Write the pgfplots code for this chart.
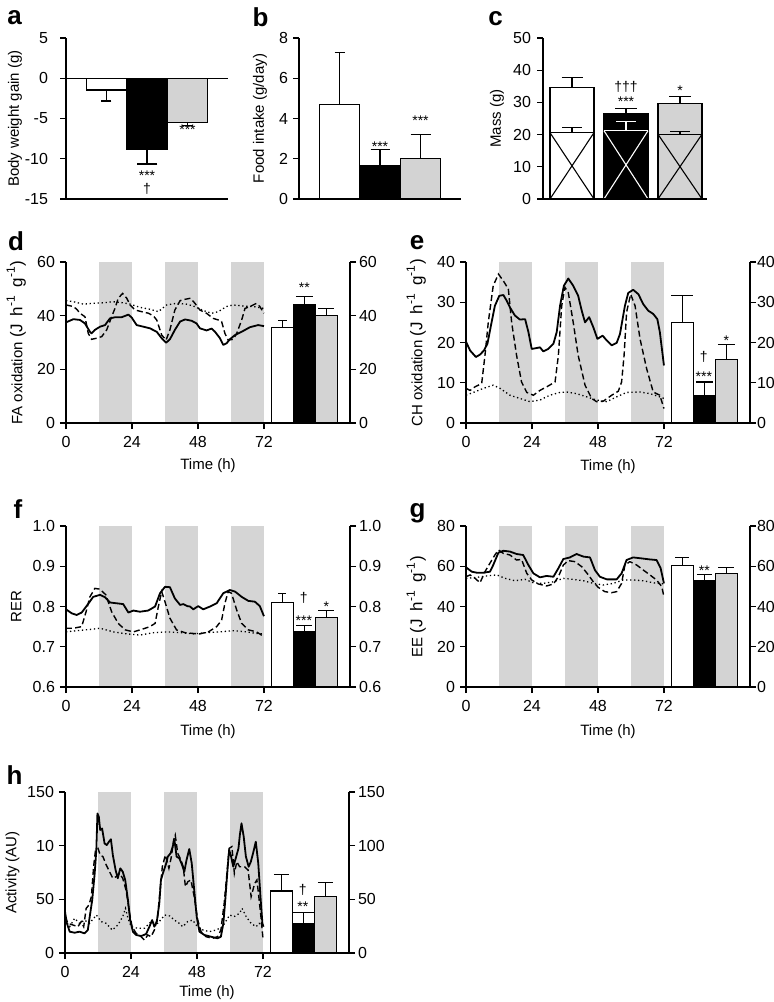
\documentclass[border=0pt]{standalone}
\usepackage{fontspec}
\setmainfont{Liberation Sans}
\usepackage{pgfplots}
\pgfplotsset{compat=1.18}

\definecolor{bargray}{RGB}{211,211,211}
\definecolor{bandgray}{RGB}{213,213,213}

\pgfplotsset{
  base/.style={scale only axis, anchor=south west, height=80.5pt, axis on top, clip=false,
    tick align=outside, major tick length=3pt,
    axis line style={line width=0.65pt},
    every tick/.append style={line width=0.65pt, black},
    tick label style={font=\fontsize{8}{9}\selectfont},
    label style={font=\fontsize{7.5}{9}\selectfont},
    /pgf/number format/assume math mode=true},
  toppan/.style={base, width=81pt, xmin=0, xmax=4, xtick=\empty, bar width=1,
    axis x line*=bottom, axis y line*=left},
  tpan/.style={base, width=142pt, xmin=0, xmax=103.3, xtick={0,24,48,72}, bar width=8,
    axis x line*=bottom, axis y line*=left, yticklabel style={xshift=1pt},
    ylabel style={at={(axis description cs:-0.175,0.5)}, anchor=center}},
  rpan/.style={base, width=142pt, xmin=0, xmax=103.3, axis x line=none, axis y line*=right,
    yticklabel style={xshift=-2pt}},
  mybar/.style={ybar, bar shift=0pt, draw=black, line width=0.55pt,
    /pgfplots/error bars/y dir=plus, /pgfplots/error bars/y explicit,
    /pgfplots/error bars/error bar style={line width=0.55pt, black, solid},
    /pgfplots/error bars/error mark options={rotate=90, line width=0.55pt, black, mark size=#1}},
  mybarm/.style={mybar=#1, /pgfplots/error bars/y dir=minus},
  myband/.style={fill=bandgray, draw=none, forget plot},
  sl/.style={black, line width=0.9pt, mark=none, line join=round},
  dl/.style={black, line width=0.7pt, mark=none, dash pattern=on 3pt off 1.6pt},
  ol/.style={black, line width=0.65pt, mark=none, dash pattern=on 0.65pt off 1.35pt},
}
\tikzset{
  ann/.style={font=\fontsize{7}{8}\selectfont, inner sep=0pt},
  lab/.style={font=\fontsize{7.5}{9}\selectfont, inner sep=0pt},
  lbl/.style={font=\bfseries\fontsize{13}{13}\selectfont, inner sep=0pt},
}
\newcommand{\sups}[1]{\raisebox{0.85ex}{\fontsize{6}{6}\selectfont #1}}
\newcommand{\Jhg}{{\fontsize{8.5}{9}\selectfont(J\hspace{1.5pt} h\sups{-1}\hspace{2pt} g\sups{-1}\hspace{0.5pt})}}

\begin{document}
\begin{tikzpicture}
\useasboundingbox (0,0) rectangle (387pt,-501pt);

% panel letters
\node[lbl] at (7.25pt,-9pt) {a};
\node[lbl] at (130.25pt,-8.75pt) {b};
\node[lbl] at (247.75pt,-9.5pt) {c};
\node[lbl] at (8pt,-120.5pt) {d};
\node[lbl] at (208.5pt,-121.5pt) {e};
\node[lbl] at (9pt,-254.5pt) {f};
\node[lbl] at (208.75pt,-256.5pt) {g};
\node[lbl] at (7.25pt,-387.5pt) {h};

% a: body weight gain
\begin{axis}[toppan, at={(33pt,-99.5pt)}, ymin=-15, ymax=5, yticklabel style={xshift=-2.5pt},
  ytick={-15,-10,-5,0,5}, yticklabels={-15,-10,-5,0,5},
  ylabel={Body weight gain (g)}, ylabel style={at={(axis description cs:-0.315,0.5)}, anchor=center}]
\addplot[mybarm=2.5pt, fill=white] coordinates {(1,-1.46) +- (0,1.37)};
\addplot[mybarm=5.2pt, fill=black] coordinates {(2,-8.8) +- (0,1.85)};
\addplot[mybarm=2.75pt, fill=bargray] coordinates {(3,-5.48) +- (0,0.41)};
\addplot[black, line width=0.65pt, mark=none] coordinates {(0,0) (4,0)};
\node[ann] at (axis cs:3,-6.4) {***};
\node[ann] at (axis cs:2,-12.1) {***};
\node[ann] at (axis cs:2,-13.8) {†};
\end{axis}

% b: food intake
\begin{axis}[toppan, at={(149.5pt,-99.5pt)}, ymin=0, ymax=8, yticklabel style={xshift=1pt},
  ytick={0,2,4,6,8}, yticklabels={0,2,4,6,8},
  ylabel={Food intake (g/day)}, ylabel style={at={(axis description cs:-0.24,0.5)}, anchor=center}]
\addplot[mybar=2.5pt, fill=white] coordinates {(1,4.71) +- (0,2.57)};
\addplot[mybar=4.75pt, fill=black] coordinates {(2,1.66) +- (0,0.78)};
\addplot[mybar=5pt, fill=bargray] coordinates {(3,2.0) +- (0,1.22)};
\node[ann] at (axis cs:2,2.6) {***};
\node[ann] at (axis cs:3,3.87) {***};
\end{axis}

% c: mass
\begin{axis}[base, at={(271.5pt,-99.5pt)}, width=82pt, xmin=0.463, xmax=3.5, xtick=\empty,
  bar width=0.815, axis x line*=bottom, axis y line*=left, ymin=0, ymax=50,
  yticklabel style={xshift=0.5pt},
  ytick={0,10,20,30,40,50}, yticklabels={0,10,20,30,40,50},
  ylabel={Mass (g)}, ylabel style={at={(axis description cs:-0.28,0.5)}, anchor=center}]
\addplot[mybar=5.25pt, fill=white] coordinates {(1,34.6) +- (0,3.2)};
\addplot[mybar=5.5pt, fill=black] coordinates {(2,26.4) +- (0,1.6)};
\addplot[mybar=5.5pt, fill=bargray] coordinates {(3,29.6) +- (0,2.2)};
% inner (lean) parts with cross
\addplot[black, line width=0.55pt, mark=none] coordinates {(0.5925,20.6) (1.4075,20.6)};
\addplot[black, line width=0.55pt, mark=none] coordinates {(0.5925,0) (1.4075,20.6)};
\addplot[black, line width=0.55pt, mark=none] coordinates {(0.5925,20.6) (1.4075,0)};
\addplot[black, line width=0.55pt, mark=none] coordinates {(1,20.6) (1,22.3)};
\addplot[black, line width=0.55pt, mark=none] coordinates {(0.815,22.3) (1.185,22.3)};
\addplot[white, line width=0.55pt, mark=none] coordinates {(1.5925,21.2) (2.4075,21.2)};
\addplot[white, line width=0.55pt, mark=none] coordinates {(1.5925,0) (2.4075,21.2)};
\addplot[white, line width=0.55pt, mark=none] coordinates {(1.5925,21.2) (2.4075,0)};
\addplot[white, line width=0.55pt, mark=none] coordinates {(2,21.2) (2,24.0)};
\addplot[white, line width=0.55pt, mark=none] coordinates {(1.815,24.0) (2.185,24.0)};
\addplot[black, line width=0.55pt, mark=none] coordinates {(2.5925,20.1) (3.4075,20.1)};
\addplot[black, line width=0.55pt, mark=none] coordinates {(2.5925,0) (3.4075,20.1)};
\addplot[black, line width=0.55pt, mark=none] coordinates {(2.5925,20.1) (3.4075,0)};
\addplot[black, line width=0.55pt, mark=none] coordinates {(3,20.1) (3,21.1)};
\addplot[black, line width=0.55pt, mark=none] coordinates {(2.815,21.1) (3.185,21.1)};
\node[ann] at (axis cs:2,34.8) {†††};
\node[ann] at (axis cs:2,30.1) {***};
\node[ann] at (axis cs:3,33.5) {*};
\end{axis}

% d: FA oxidation
\begin{axis}[tpan, at={(33pt,-211.5pt)}, ymin=0, ymax=60,
  ytick={0,20,40,60}, yticklabels={0,20,40,60},
  ylabel={FA oxidation \Jhg}]
\addplot[myband] coordinates {(12,0) (24,0) (24,60) (12,60)} -- cycle;
\addplot[myband] coordinates {(36,0) (48,0) (48,60) (36,60)} -- cycle;
\addplot[myband] coordinates {(60,0) (72,0) (72,60) (60,60)} -- cycle;
\addplot[ol] coordinates {(0,45.6) (2.7,45.2) (6.3,44.3) (9.9,44.6) (13.6,44.8) (17.2,45.2) (20.8,44.8) (23.3,44.3) (26.9,43.1) (30.5,42.4) (33.6,41.5) (36.6,44) (40.2,44.6) (43.8,44.3) (46.3,43.6) (50,41.9) (53,40.9) (55.4,41.5) (58.4,43.4) (60.8,44) (64.5,43.6) (68.1,43.4) (72,42.7)};
\addplot[dl] coordinates {(0,44) (2.7,43.4) (3.9,42.4) (5.1,40.9) (6.9,39.6) (8.1,33.4) (9.3,31.2) (11.2,31.6) (13,32.2) (14.8,34.7) (16.6,39.6) (17.8,42.7) (19,46.5) (20.6,48.3) (22.1,46.5) (23.3,44) (25.1,42.1) (27.5,41.5) (30,40.9) (31.8,39.9) (33,38.4) (34.8,32.8) (36.4,30.9) (37.8,34.7) (39.6,42.1) (41.5,45.6) (43.3,46.1) (45.3,46.5) (46.9,44.6) (48.7,42.1) (51.1,40.9) (53.5,39) (55.4,38.4) (56.6,37.8) (57.8,33.4) (59,30.9) (60.8,31.2) (62.1,33.4) (63.9,38.4) (65.1,42.7) (66.9,43.4) (69.3,44.6) (70.5,43.4) (72,40.9)};
\addplot[sl] coordinates {(0,37.5) (2.7,38.7) (5.1,38.4) (6.9,37.1) (8.7,34) (9.3,33.4) (10.5,34.7) (12.4,35.9) (14.2,36.5) (16,39) (17.8,39.4) (20.2,39.4) (22.7,40.4) (23.9,39.3) (25.7,36.5) (28.1,35.9) (30.5,35.3) (33,34) (34.8,31.6) (36.4,29.9) (37.8,31.2) (39.6,34.7) (41.5,37.8) (43.3,38.6) (45.7,38.1) (47.5,37.1) (48.7,35.3) (51.1,34.5) (53,35.2) (54.2,34) (56,31.6) (57.2,29.1) (58.4,29.7) (59.6,31.2) (61.5,32.8) (63.9,34) (66.9,35.7) (69.9,36.5) (72,36.1)};
\addplot[mybar=2.3pt, fill=white] coordinates {(78.7,35.5) +- (0,2.8)};
\addplot[mybar=4.3pt, fill=black] coordinates {(86.7,44) +- (0,3.3)};
\addplot[mybar=4pt, fill=bargray] coordinates {(94.7,39.9) +- (0,2.8)};
\node[ann] at (axis cs:86.7,50.3) {**};
\node[lab] at (axis description cs:0.5,-0.265) {Time (h)};
\end{axis}
\begin{axis}[rpan, at={(33pt,-211.5pt)}, ymin=0, ymax=60, ytick={0,20,40,60}, yticklabels={0,20,40,60}]
\end{axis}

% e: CH oxidation
\begin{axis}[tpan, at={(233pt,-211.5pt)}, ymin=0, ymax=40,
  ytick={0,10,20,30,40}, yticklabels={0,10,20,30,40},
  ylabel={CH oxidation \Jhg}]
\addplot[myband] coordinates {(12,0) (24,0) (24,40) (12,40)} -- cycle;
\addplot[myband] coordinates {(36,0) (48,0) (48,40) (36,40)} -- cycle;
\addplot[myband] coordinates {(60,0) (72,0) (72,40) (60,40)} -- cycle;
\addplot[ol] coordinates {(0,6.9) (2.7,7.6) (6.3,8.6) (9.9,9.4) (12.4,8.6) (16,6.9) (19.6,6.1) (23.3,5.3) (26.9,5.7) (30.5,6.9) (34.2,7.6) (36.6,7.7) (40.2,7.3) (43.9,6.5) (47.5,5.7) (51.2,5.3) (54.8,6.5) (58.4,7.6) (63.3,7.7) (66.9,7.3) (70.5,6.5) (72,6.1)};
\addplot[dl] coordinates {(0,8.6) (1.5,8.1) (3.3,9) (5.7,9.8) (6.9,16.8) (8.1,25) (9.9,34.1) (11.8,37) (13.6,35.3) (15.4,33.3) (16.6,25) (18.4,16.8) (20.2,10.2) (22.1,7.6) (24.5,6.9) (26.9,8.1) (29.9,9.2) (32.4,10.2) (33.6,16.8) (34.8,29.1) (36,33.7) (37.2,32.4) (39,25) (40.8,16.8) (43.3,9.4) (45.7,6.1) (47.5,5.3) (49.9,5.4) (53,6.9) (55.4,7.9) (56.6,10.2) (57.5,16.8) (58.4,27.5) (59.9,32) (61.5,29.1) (63.3,20.9) (65.7,13.5) (68.1,7.7) (70.5,6.9) (72,3.6)};
\addplot[sl] coordinates {(0,20.2) (1.5,18) (3.6,16.4) (5.1,17) (6.5,18) (7.8,19.7) (9.3,25) (10.5,29.1) (12.1,31.6) (13.6,31.8) (14.8,30.4) (16,28.7) (17.8,26.7) (19.6,25.7) (21.5,25.8) (22.7,22.6) (23.9,18.4) (25.5,18.6) (26.9,18.8) (28.1,17.8) (29.9,18.4) (31.8,19.7) (33,22.6) (34.2,29.1) (35.6,34.1) (37.2,35.9) (39,34.1) (40.8,31.6) (42.1,27.9) (43.3,25) (44.8,26.3) (46.3,23.8) (47.8,20.9) (49.7,21.7) (51.2,20.5) (53,19.3) (54.8,19.9) (56,22.1) (57.8,29.1) (59,32.3) (60.8,33.1) (62.7,32) (64.5,29.5) (66.3,27.9) (68.1,27.1) (69.6,25.8) (70.5,22.6) (72,14.3)};
\addplot[mybar=5.5pt, fill=white] coordinates {(78.7,25) +- (0,6.6)};
\addplot[mybar=4.3pt, fill=black] coordinates {(86.7,6.9) +- (0,3.3)};
\addplot[mybar=4.3pt, fill=bargray] coordinates {(94.7,15.7) +- (0,3.8)};
\node[ann] at (axis cs:86.5,16.5) {†};
\node[ann] at (axis cs:86.5,11.6) {***};
\node[ann] at (axis cs:94.7,20.5) {*};
\node[lab] at (axis description cs:0.5,-0.27) {Time (h)};
\end{axis}
\begin{axis}[rpan, at={(233pt,-211.5pt)}, ymin=0, ymax=40, ytick={0,10,20,30,40}, yticklabels={0,10,20,30,40},
  yticklabel style={xshift=-1pt}]
\end{axis}

% f: RER
\begin{axis}[tpan, at={(33pt,-343.5pt)}, ymin=0.6, ymax=1.0,
  ytick={0.6,0.7,0.8,0.9,1.0}, yticklabels={0.6,0.7,0.8,0.9,1.0},
  ylabel={RER}]
\addplot[myband] coordinates {(12,0.6) (24,0.6) (24,1) (12,1)} -- cycle;
\addplot[myband] coordinates {(36,0.6) (48,0.6) (48,1) (36,1)} -- cycle;
\addplot[myband] coordinates {(60,0.6) (72,0.6) (72,1) (60,1)} -- cycle;
\addplot[ol] coordinates {(0,0.737) (3.9,0.740) (8.7,0.743) (12.4,0.746) (17.2,0.737) (22.1,0.732) (26.9,0.729) (31.8,0.735) (36.6,0.737) (41.5,0.735) (46.3,0.732) (51.2,0.735) (56,0.737) (60.8,0.740) (65.7,0.737) (69.3,0.733) (72,0.732)};
\addplot[dl] coordinates {(0,0.746) (2.7,0.746) (5.7,0.750) (7.3,0.787) (8.7,0.824) (10.5,0.845) (12.4,0.843) (14.5,0.829) (16.6,0.787) (19,0.758) (21.5,0.742) (24.5,0.737) (27.5,0.743) (30.5,0.750) (32.4,0.758) (33.6,0.800) (34.8,0.837) (36,0.812) (37.8,0.771) (40.2,0.742) (43.3,0.735) (46.3,0.733) (48.7,0.732) (51.8,0.737) (54.8,0.750) (56.6,0.766) (57.8,0.808) (59,0.837) (60.2,0.833) (62.1,0.791) (63.9,0.758) (66.3,0.742) (69.3,0.737) (72,0.725)};
\addplot[sl] coordinates {(0,0.793) (2.1,0.783) (3.9,0.779) (5.7,0.785) (7.8,0.804) (9.9,0.824) (12.4,0.829) (14.2,0.823) (16,0.810) (18.4,0.808) (20.8,0.806) (22.7,0.785) (24.5,0.790) (26.9,0.787) (29.9,0.790) (32.4,0.800) (34.2,0.833) (36,0.849) (37.8,0.848) (39.6,0.820) (41.5,0.804) (42.7,0.806) (44.1,0.801) (45.1,0.800) (46.3,0.793) (48.1,0.801) (49.9,0.793) (52.4,0.800) (54.8,0.808) (57.2,0.833) (59.6,0.841) (61.5,0.837) (63.9,0.824) (66.3,0.814) (68.7,0.812) (70.5,0.801) (72,0.776)};
\addplot[mybar=2pt, fill=white] coordinates {(78.7,0.809) +- (0,0.024)};
\addplot[mybar=4pt, fill=black] coordinates {(86.7,0.737) +- (0,0.015)};
\addplot[mybar=4pt, fill=bargray] coordinates {(94.7,0.772) +- (0,0.017)};
\node[ann] at (axis cs:86.5,0.821) {†};
\node[ann] at (axis cs:86.5,0.764) {***};
\node[ann] at (axis cs:94.7,0.799) {*};
\node[lab] at (axis description cs:0.5,-0.28) {Time (h)};
\end{axis}
\begin{axis}[rpan, at={(33pt,-343.5pt)}, ymin=0.6, ymax=1.0, ytick={0.6,0.7,0.8,0.9,1.0}, yticklabels={0.6,0.7,0.8,0.9,1.0}]
\end{axis}

% g: EE
\begin{axis}[tpan, at={(233pt,-343.5pt)}, ymin=0, ymax=80,
  ytick={0,20,40,60,80}, yticklabels={0,20,40,60,80},
  ylabel={EE \Jhg}]
\addplot[myband] coordinates {(12,0) (24,0) (24,80) (12,80)} -- cycle;
\addplot[myband] coordinates {(36,0) (48,0) (48,80) (36,80)} -- cycle;
\addplot[myband] coordinates {(60,0) (72,0) (72,80) (60,80)} -- cycle;
\addplot[ol] coordinates {(0,54) (3.9,54.5) (7.5,55.2) (11.2,55.7) (14.2,54) (17.8,52.8) (21.5,53.5) (24.5,51.8) (28.1,51.5) (31.8,52.3) (35.4,54) (39,53.5) (42.7,52.8) (46.3,51.5) (49.9,50.7) (53.6,51.5) (57.2,53.2) (60.8,53.2) (64.5,52.8) (68.1,51.8) (72,51.2)};
\addplot[dl] coordinates {(0,54.8) (1.5,55.7) (3.3,54) (5.1,51.8) (6.9,57.3) (8.7,61.5) (10.5,65.6) (11.8,68.1) (13.6,66.4) (16,65.6) (18.4,63.1) (20.2,63.4) (22.1,56.5) (23.9,53.2) (26.3,51.2) (29.3,50.2) (31.8,51.2) (33.6,54.8) (35.4,60.6) (37.2,62.8) (39.6,62.3) (42.1,59.8) (44.5,55.7) (46.3,52.3) (48.1,49.5) (50.5,47.4) (53,46.9) (54.8,47.4) (56.6,51.5) (57.8,60.6) (59.6,62.3) (62.1,60.6) (64.5,58.1) (66.9,55.7) (69.3,53.2) (71.2,49.9) (72,44.9)};
\addplot[sl] coordinates {(0,59.5) (2.1,57.3) (3.9,56.8) (6.3,56.8) (8.7,57.3) (9.9,60.6) (11.8,66.8) (13.6,67.7) (16,67.3) (18.4,66.1) (20.8,65.6) (22.7,60.6) (24.5,56.5) (26.9,54.5) (29.3,55.2) (31.8,54.8) (33.6,59) (35.4,63.6) (37.8,64.4) (40.2,66.1) (42.7,64.8) (45.1,64.4) (46.9,58.1) (48.7,54.8) (51.2,53.5) (54.8,53.5) (56.6,56.5) (58.4,63.1) (60.8,64.4) (63.9,63.9) (66.9,63.4) (69.3,63.1) (70.8,59) (72,51.5)};
\addplot[mybar=3.5pt, fill=white] coordinates {(78.7,60.3) +- (0,4.1)};
\addplot[mybar=3.75pt, fill=black] coordinates {(86.7,52.7) +- (0,3.0)};
\addplot[mybar=4pt, fill=bargray] coordinates {(94.7,56.5) +- (0,3.0)};
\node[ann] at (axis cs:86.7,57.6) {**};
\node[lab] at (axis description cs:0.5,-0.28) {Time (h)};
\end{axis}
\begin{axis}[rpan, at={(233pt,-343.5pt)}, ymin=0, ymax=80, ytick={0,20,40,60,80}, yticklabels={0,20,40,60,80},
  yticklabel style={xshift=-1pt}]
\end{axis}

% h: activity
\begin{axis}[tpan, at={(32.5pt,-476.5pt)}, ymin=0, ymax=150,
  ytick={0,50,100,150}, yticklabels={0,50,10,150},
  ylabel={Activity (AU)}, ylabel style={at={(axis description cs:-0.185,0.5)}}]
\addplot[myband] coordinates {(12,0) (24,0) (24,150) (12,150)} -- cycle;
\addplot[myband] coordinates {(36,0) (48,0) (48,150) (36,150)} -- cycle;
\addplot[myband] coordinates {(60,0) (72,0) (72,150) (60,150)} -- cycle;
\addplot[ol] coordinates {(0,30.7) (1.7,24.5) (3.5,32.3) (5.3,27.6) (7.1,30.7) (8.9,27.6) (11.4,35.4) (13.2,29.2) (15,27.6) (17.2,21.4) (19.2,26.1) (21,33.9) (22,41.6) (22.9,32.3) (24.1,24.5) (26.5,23) (28.9,23) (31.3,29.2) (33.7,27.6) (36.3,35.4) (38.1,34.5) (39.8,30.7) (41.6,27.6) (42.8,24.5) (44.6,29.2) (46.4,30.7) (48.2,24.5) (50.2,21.4) (52.5,19.9) (55,21.4) (57.3,24.5) (59.9,35.4) (61.5,33.9) (63.5,37) (64.4,41.6) (65.9,33.9) (67.7,27.6) (69.5,24.5) (70.6,27.6) (72,26.1)};
\addplot[dl] coordinates {(0,33.9) (1.1,27.6) (2.9,26.1) (4.7,24.5) (5.9,29.2) (6.8,24.5) (7.7,41.6) (8.7,44.7) (9.6,52.5) (10.4,80.4) (11.1,96) (12,97.5) (12.8,91.3) (13.8,89.8) (15,82) (16.2,75.8) (17.4,69.6) (18.6,71.1) (19.8,74.2) (21,69.6) (22.2,58.7) (23.5,37) (24.4,24.5) (25.9,18.3) (27.7,15.2) (28.9,12.1) (30.1,16.8) (31.3,15.2) (32.5,21.4) (33.7,33.9) (34.7,61.8) (35.4,80.4) (36.5,91.3) (37.8,78.9) (38.7,89.8) (39.5,105.3) (40.1,109.9) (41,92.9) (42.2,86.6) (43,80.4) (43.8,61.8) (44.7,66.5) (45.8,68) (47,52.5) (48.3,30.7) (49.5,19.9) (51.3,15.2) (53.7,13.7) (55.5,15.2) (56.7,21.4) (57.9,46.3) (58.9,74.2) (59.7,97.5) (60.7,99.1) (61.6,74.2) (62.5,85.1) (63.5,80.4) (65.3,80.4) (66.6,77.3) (67.7,52.5) (69,64.9) (69.8,68) (70.5,52.5) (71.4,30.7) (72,13.7)};
\addplot[sl] coordinates {(0,38.5) (0.7,27.6) (1.7,19.9) (3.5,18.9) (5.3,19.9) (7.1,18.3) (8.3,21.4) (8.9,32.3) (9.9,49.4) (10.8,74.2) (11.4,96) (11.8,130) (12.3,127) (12.8,114.6) (13.5,116) (14.4,102) (15.2,100.6) (16,103.7) (16.7,106) (17.4,91.3) (18.4,77.3) (19.2,69.6) (20.1,78.9) (21,75.8) (21.9,68) (22.9,49.4) (23.7,30.7) (24.7,19.9) (25.9,16.8) (27.7,15.8) (29.5,17.7) (30.7,24.5) (31.7,30.7) (32.5,24.5) (33.4,29.2) (34.3,46.3) (34.9,68) (35.8,75.8) (36.8,83.5) (37.4,89.8) (38.4,92.9) (39,97.5) (39.8,105.3) (40.6,89.8) (41.6,88.2) (42.6,82) (43.4,75.8) (44.2,86.6) (45.2,96.9) (46.1,83.5) (47,58.7) (47.9,33.9) (48.9,19.9) (50.7,16.8) (53.1,15.2) (55.5,13.7) (56.7,15.2) (57.6,27.6) (58.3,49.4) (59.1,77.3) (59.7,96) (60.3,91.3) (61.2,80.4) (62.1,88.2) (63.1,97.5) (63.6,109.9) (64.2,120.8) (65,108.4) (65.8,89.8) (66.8,80.4) (67.6,85.1) (68.4,92.9) (69.4,103.7) (70.3,83.5) (71.1,52.5) (71.8,27.6) (72.2,24.5)};
\addplot[mybar=3.75pt, fill=white] coordinates {(78.7,57.8) +- (0,15.5)};
\addplot[mybar=5.25pt, fill=black] coordinates {(86.7,27.7) +- (0,9.9)};
\addplot[mybar=3.75pt, fill=bargray] coordinates {(94.7,52.5) +- (0,13)};
\node[ann] at (axis cs:86.5,58.7) {†};
\node[ann] at (axis cs:86.5,42.9) {**};
\node[lab] at (axis description cs:0.5,-0.248) {Time (h)};
\end{axis}
\begin{axis}[rpan, at={(32.5pt,-476.5pt)}, ymin=0, ymax=150, ytick={0,50,100,150}, yticklabels={0,50,100,150}]
\end{axis}

\end{tikzpicture}
\end{document}
